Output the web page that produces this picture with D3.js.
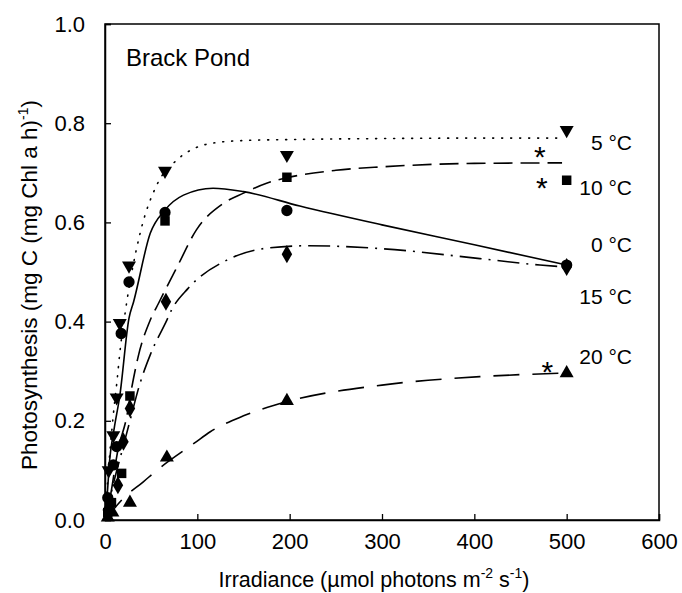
<!DOCTYPE html>
<html>
<head>
<meta charset="utf-8">
<script src="https://cdn.jsdelivr.net/npm/d3@7"></script>
<style>
  html, body { margin: 0; padding: 0; background: #fff; }
  svg { display: block; font-family: Arial, "Liberation Sans", Helvetica, sans-serif; }
</style>
</head>
<body>
<svg id="chart" width="682" height="593"></svg>
<script>
// ---------- data ----------
const xTicks = [0, 100, 200, 300, 400, 500, 600];
const yTicks = [0.0, 0.2, 0.4, 0.6, 0.8, 1.0];

// measured points
const c0X  = [3, 9, 12.6, 17.5, 26, 65, 197, 500];
const c0Y  = [0.045, 0.111, 0.148, 0.376, 0.48, 0.62, 0.624, 0.514];
const c5X  = [4, 9, 12.6, 16, 26, 65, 197, 500];
const c5Y  = [0.10, 0.171, 0.247, 0.397, 0.513, 0.704, 0.736, 0.786];
const c10X = [3, 7, 18, 27, 65, 197, 500];
const c10Y = [0.015, 0.035, 0.094, 0.25, 0.603, 0.691, 0.685];
const c15X = [3, 14, 20, 27, 66, 197, 500];
const c15Y = [0.02, 0.07, 0.158, 0.225, 0.44, 0.536, 0.51];
const c20X = [3, 8, 27, 67, 197, 500];
const c20Y = [0.005, 0.015, 0.035, 0.126, 0.24, 0.296];

// fitted curves
const f0X  = [0, 2, 5, 10, 16, 26, 31, 49, 65, 85, 117, 150, 211, 300, 400, 500];
const f0Y  = [0, 0.04, 0.12, 0.185, 0.25, 0.407, 0.44, 0.578, 0.625, 0.655, 0.669, 0.662, 0.633, 0.595, 0.555, 0.514];
const f5X  = [0, 5, 10, 13, 16, 22, 38, 56, 78, 99, 121, 150, 200, 300, 400, 495];
const f5Y  = [0, 0.13, 0.23, 0.28, 0.336, 0.42, 0.578, 0.675, 0.726, 0.751, 0.761, 0.765, 0.767, 0.769, 0.77, 0.77];
const f10X = [0, 5, 14, 23.5, 28.5, 36, 49, 58, 78, 99, 128, 150, 175, 197, 250, 300, 400, 495];
const f10Y = [0, 0.04, 0.141, 0.208, 0.262, 0.33, 0.403, 0.437, 0.51, 0.585, 0.638, 0.659, 0.679, 0.69, 0.705, 0.712, 0.719, 0.72];
const f15X = [0, 10, 20, 27, 38, 49, 67, 72, 90, 132, 175, 220, 300, 406, 471, 500];
const f15Y = [0, 0.08, 0.15, 0.2, 0.276, 0.333, 0.403, 0.423, 0.467, 0.524, 0.548, 0.553, 0.547, 0.527, 0.514, 0.51];
const f20X = [0, 20, 41.5, 56, 97.5, 114, 150, 200, 300, 406, 495];
const f20Y = [0, 0.044, 0.077, 0.1, 0.156, 0.178, 0.21, 0.24, 0.272, 0.289, 0.296];

// series labels at right
const labelText = ["5 °C", "10 °C", "0 °C", "15 °C", "20 °C"];
const labelY    = [0.745, 0.655, 0.54, 0.435, 0.315];

// asterisks (centre positions)
const starX = [471, 473, 479];
const starY = [0.746, 0.684, 0.3125];

// ---------- drawing ----------
const svg = d3.select("#chart");
const x = d3.scaleLinear().domain([0, 600]).range([105, 659]);
const y = d3.scaleLinear().domain([0, 1]).range([520, 24]);

const line = (xs, ys) => d3.line()
  .x(i => x(xs[i])).y(i => y(ys[i]))
  .curve(d3.curveMonotoneX)(d3.range(xs.length));

const curves = [
  {xs: f5X,  ys: f5Y,  dash: "1,8", w: 1.6, cap: "round"},
  {xs: f10X, ys: f10Y, dash: "19,8", w: 1.6, cap: "butt"},
  {xs: f15X, ys: f15Y, dash: "22,7,2,7", w: 1.6, cap: "butt"},
  {xs: f20X, ys: f20Y, dash: "26,13", w: 1.6, cap: "butt"},
  {xs: f0X,  ys: f0Y,  dash: null, w: 1.6, cap: "butt"}
];
curves.forEach(c => {
  svg.append("path").attr("d", line(c.xs, c.ys))
    .attr("fill", "none").attr("stroke", "#000")
    .attr("stroke-width", c.w)
    .attr("stroke-linecap", c.cap)
    .attr("stroke-dasharray", c.dash);
});

// markers
const sym = {
  circle: d3.symbol().type(d3.symbolCircle).size(100),
  square: d3.symbol().type(d3.symbolSquare).size(90),
  diamond: d3.symbol().type(d3.symbolDiamond).size(95),
  triangle: d3.symbol().type(d3.symbolTriangle).size(85)
};
function markers(xs, ys, gen, rot) {
  svg.append("g").selectAll("path").data(d3.range(xs.length)).join("path")
    .attr("d", gen())
    .attr("transform", i => `translate(${x(xs[i])},${y(ys[i])}) rotate(${rot})`)
    .attr("fill", "#000");
}
markers(c20X, c20Y, sym.triangle, 0);
markers(c15X, c15Y, sym.diamond, 0);
markers(c10X, c10Y, sym.square, 0);
markers(c5X, c5Y, sym.triangle, 180);
markers(c0X, c0Y, sym.circle, 0);

// asterisks
svg.append("g").selectAll("text").data(d3.range(starX.length)).join("text")
  .attr("x", i => x(starX[i])).attr("y", i => y(starY[i]) + 17)
  .attr("text-anchor", "middle").attr("font-size", 30).text("*");

// frame
svg.append("rect").attr("x", x(0)).attr("y", y(1))
  .attr("width", x(600) - x(0)).attr("height", y(0) - y(1))
  .attr("fill", "none").attr("stroke", "#000").attr("stroke-width", 1.5);

// axes
const xAxis = svg.append("g").attr("transform", `translate(0,${y(0)})`)
  .call(d3.axisBottom(x).tickValues(xTicks).tickSize(-6).tickPadding(13).tickFormat(d3.format("d")));
const yAxis = svg.append("g").attr("transform", `translate(${x(0)},0)`)
  .call(d3.axisLeft(y).tickValues(yTicks).tickSize(-6).tickPadding(20).tickFormat(d3.format(".1f")));
[xAxis, yAxis].forEach(a => {
  a.select(".domain").attr("stroke-width", 1.5);
  a.selectAll("text").attr("font-size", 22).attr("font-family", "Arial, 'Liberation Sans', sans-serif").attr("fill", "#000");
  a.selectAll("line").attr("stroke-width", 1.3);
});

// title
svg.append("text").attr("x", 126).attr("y", 66).attr("font-size", 24).text("Brack Pond");

// series labels
svg.append("g").selectAll("text").data(d3.range(labelText.length)).join("text")
  .attr("x", 632).attr("y", i => y(labelY[i])).attr("text-anchor", "end")
  .attr("font-size", 21).text(i => labelText[i]);

// x axis title
const xt = svg.append("text").attr("x", 374).attr("y", 587).attr("text-anchor", "middle").attr("font-size", 21.5);
xt.append("tspan").text("Irradiance (µmol photons m");
xt.append("tspan").attr("dy", -9).attr("font-size", 14).text("-2");
xt.append("tspan").attr("dy", 9).text(" s");
xt.append("tspan").attr("dy", -9).attr("font-size", 14).text("-1");
xt.append("tspan").attr("dy", 9).text(")");

// y axis title
const yt = svg.append("text").attr("transform", "translate(37,285) rotate(-90)")
  .attr("text-anchor", "middle").attr("font-size", 22.5);
yt.append("tspan").text("Photosynthesis (mg C (mg Chl a h)");
yt.append("tspan").attr("dy", -9).attr("font-size", 14).text("-1");
yt.append("tspan").attr("dy", 9).text(")");
</script>
</body>
</html>
